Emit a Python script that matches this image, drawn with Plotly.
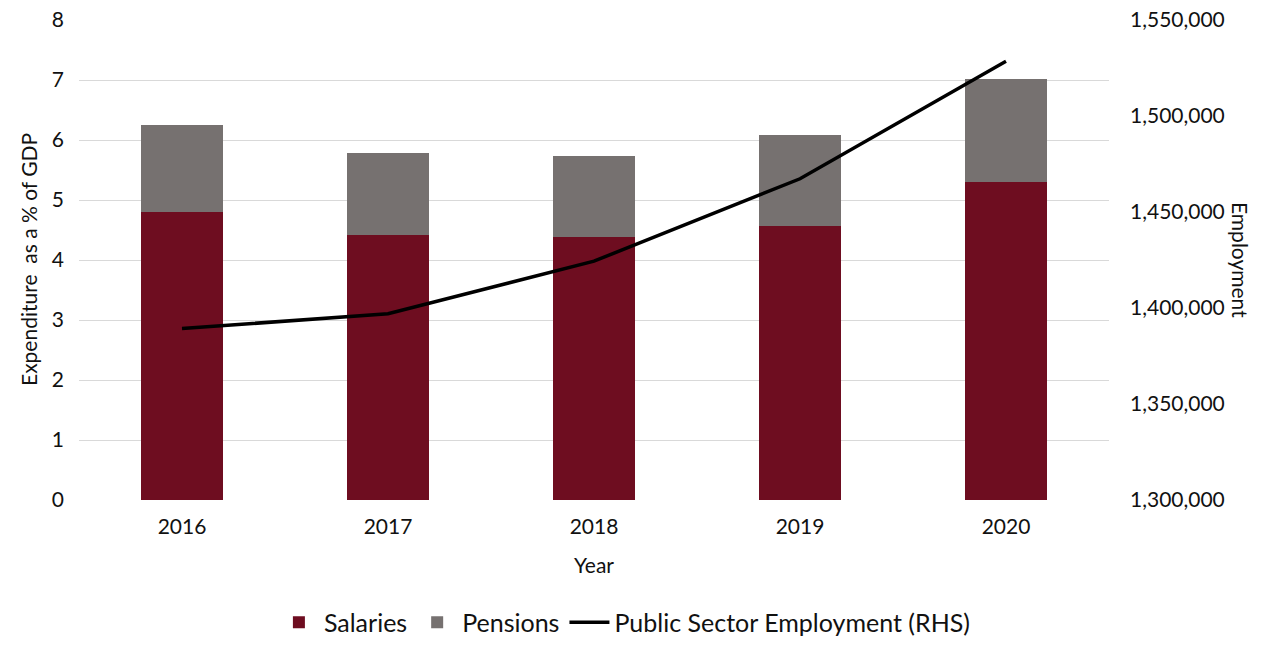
import plotly.graph_objects as go

years = ["2016", "2017", "2018", "2019", "2020"]
salaries = [4.80, 4.41, 4.38, 4.57, 5.30]
pensions = [1.45, 1.37, 1.36, 1.52, 1.72]
employment = [1389300, 1397000, 1424400, 1467300, 1528500]

FONT = "Lato"
TEXT = "#111111"

fig = go.Figure()
fig.add_trace(go.Bar(x=years, y=salaries, name="Salaries",
                     marker=dict(color="#6e0d20", line=dict(width=0))))
fig.add_trace(go.Bar(x=years, y=pensions, name="Pensions",
                     marker=dict(color="#767170", line=dict(width=0))))
fig.add_trace(go.Scatter(x=years, y=employment, name="Public Sector Employment (RHS)",
                         mode="lines", line=dict(color="black", width=3.5),
                         yaxis="y2"))

fig.update_layout(
    width=1268, height=648,
    barmode="stack", bargap=0.6,
    plot_bgcolor="white", paper_bgcolor="white",
    margin=dict(l=79, r=159, t=20, b=148, autoexpand=False),
    font=dict(family=FONT, size=21, color=TEXT),
    xaxis=dict(showgrid=False, showline=False, ticks="", automargin=False,
               ticklabelstandoff=12, tickfont=dict(size=21)),
    yaxis=dict(range=[0, 8], dtick=1, showgrid=True, gridcolor="#d9d9d9",
               gridwidth=1, zeroline=False, showline=False, automargin=False,
               ticklabelstandoff=14, tickfont=dict(size=21)),
    yaxis2=dict(range=[1300000, 1550000], dtick=50000, tickformat=",",
                overlaying="y", side="right", showgrid=False, zeroline=False,
                showline=False, automargin=False, ticklabelstandoff=20,
                tickfont=dict(size=21)),
    legend=dict(orientation="h", x=0.53, xanchor="center", y=-0.255,
                yanchor="middle", font=dict(size=25), traceorder="normal",
                itemwidth=40),
    showlegend=True,
)

# Axis titles
fig.add_annotation(text="Expenditure  as a % of GDP", xref="paper", yref="paper",
                   x=(28 - 79) / 1030, y=0.5, textangle=-90, showarrow=False,
                   xanchor="center", yanchor="middle", font=dict(size=21))
fig.add_annotation(text="Employment", xref="paper", yref="paper",
                   x=(1241 - 79) / 1030, y=0.5, textangle=90, showarrow=False,
                   xanchor="center", yanchor="middle", font=dict(size=21))
fig.add_annotation(text="Year", xref="paper", yref="paper",
                   x=0.5, y=(500.5 - 565) / 480, showarrow=False,
                   xanchor="center", yanchor="middle", font=dict(size=21))

fig.write_html("out.html")
